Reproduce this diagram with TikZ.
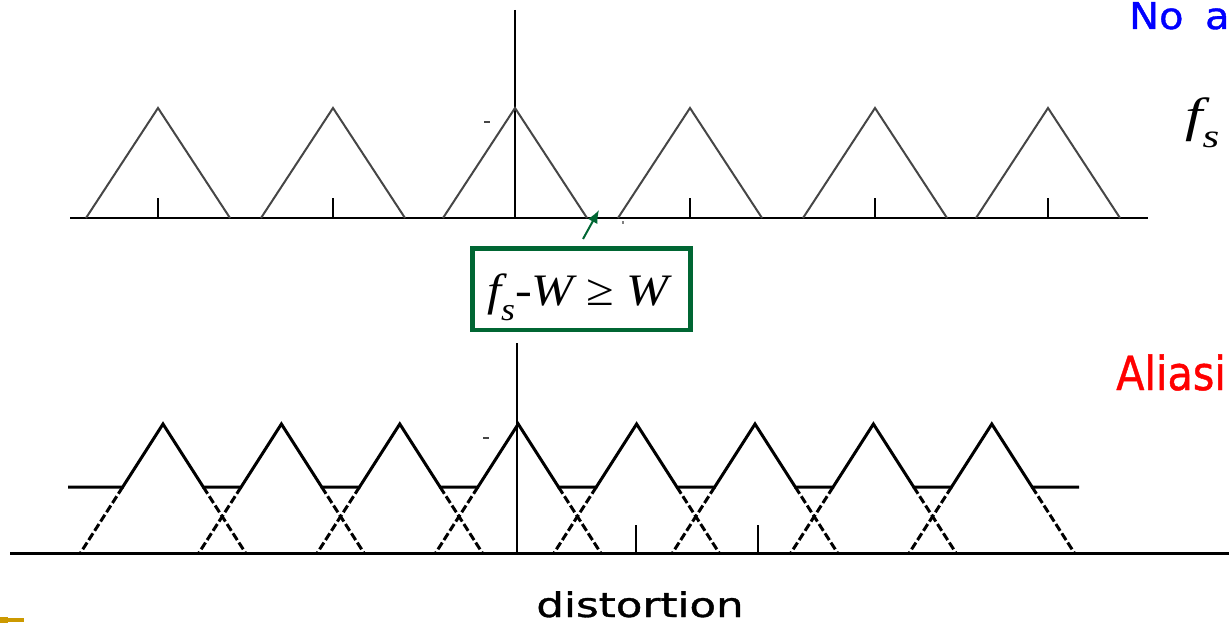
\documentclass[tikz,border=0pt]{standalone}
\usepackage{fontspec}
\setmainfont{Liberation Serif}
\newfontfamily\comic{DejaVu Sans}[FakeBold=1]
\usetikzlibrary{arrows.meta}
\definecolor{boxgreen}{RGB}{0,102,51}
\definecolor{gold}{RGB}{204,153,0}
\definecolor{trigray}{RGB}{70,70,70}
\tikzset{
  axisline/.style={black, line width=2.5pt},
  toptri/.style={trigray, line width=2pt, line join=miter},
  botenv/.style={black, line width=3pt, line join=miter},
  botleg/.style={black, line width=3pt, dash pattern=on 8pt off 3pt},
  ticks/.style={black, line width=2.2pt},
  lbl/.style={inner sep=0pt, anchor=base west},
}
\begin{document}
\begin{tikzpicture}[x=1pt, y=-1pt]
\useasboundingbox (0,0) rectangle (1229,634);
\clip (0,0) rectangle (1229,634);
% ---------- top spectrum ----------
\draw[axisline] (70,218) -- (1148,218);
\draw[axisline] (515,10) -- (515,218);
\foreach \a in {158,333,515,690,875,1048}{
  \draw[toptri] (\a-72,218) -- (\a,108) -- (\a+72,218);
}
\foreach \a in {158,333,690,875,1048}{
  \draw[ticks] (\a,198) -- (\a,218);
}
\draw[trigray, line width=2pt] (484,122) -- (490,122);
\fill[gray] (622,221) rectangle (624,224);
% ---------- condition box ----------
\node[draw=boxgreen, line width=4.5pt, minimum width=218pt, minimum height=81.5pt, inner sep=0pt]
  (cond) at (581.5,289.25) {};
\node[lbl] (condtext) at (487,305) {\scalebox{1.12}[1]{\fontsize{45}{45}\selectfont\itshape f\raisebox{-15pt}{\fontsize{32}{32}\selectfont s}-W {\upshape ≥} W}};
\coordinate (tail) at (583,239);
\coordinate (tip) at (599,210);
\draw[boxgreen, line width=2pt, -{Latex[length=13pt,width=11pt]}] (tail) -- (tip);
% ---------- bottom spectrum ----------
\draw[axisline, line width=3pt] (10,553) -- (1229,553);
\draw[axisline] (517,343) -- (517,553);
\draw[ticks] (636,525) -- (636,553);
\draw[ticks] (758,525) -- (758,553);
\draw[botenv] (68,487)
  \foreach \i in {0,...,7}{ -- ({163+118.4*\i-40.3},487) -- ({163+118.4*\i},424) -- ({163+118.4*\i+40.3},487) }
  -- (1079,487);
\foreach \i in {0,...,7}{
  \draw[botleg] ({163+118.4*\i-40.3},487) -- ({163+118.4*\i-82.6},553);
  \draw[botleg] ({163+118.4*\i+40.3},487) -- ({163+118.4*\i+82.6},553);
}
\draw[trigray, line width=2pt] (483,438) -- (489,438);
% ---------- texts ----------
\node[lbl, text=blue, font=\comic\fontsize{37}{37}\selectfont] (noal) at (1129,29) {\scalebox{1.08}[1]{No\hspace{20pt}a}};
\node[lbl, font=\fontsize{48}{48}\selectfont\itshape] (fsr) at (1185,131) {\scalebox{1.3}[1]{f\raisebox{-16pt}{\fontsize{33}{33}\selectfont s}}};
\node[lbl, text=red, font=\comic\fontsize{47}{47}\selectfont] (alias) at (1116,390) {\scalebox{0.88}[1]{Aliasi}};
\node[inner sep=0pt, anchor=base, font=\comic\fontsize{34}{34}\selectfont] (dist) at (640,617) {\scalebox{1.28}[1]{distortion}};
% ---------- gold bar ----------
\fill[gold] (0,618) rectangle (24,622);
\fill[gold] (0,617) rectangle (8,623);
\end{tikzpicture}
\end{document}
